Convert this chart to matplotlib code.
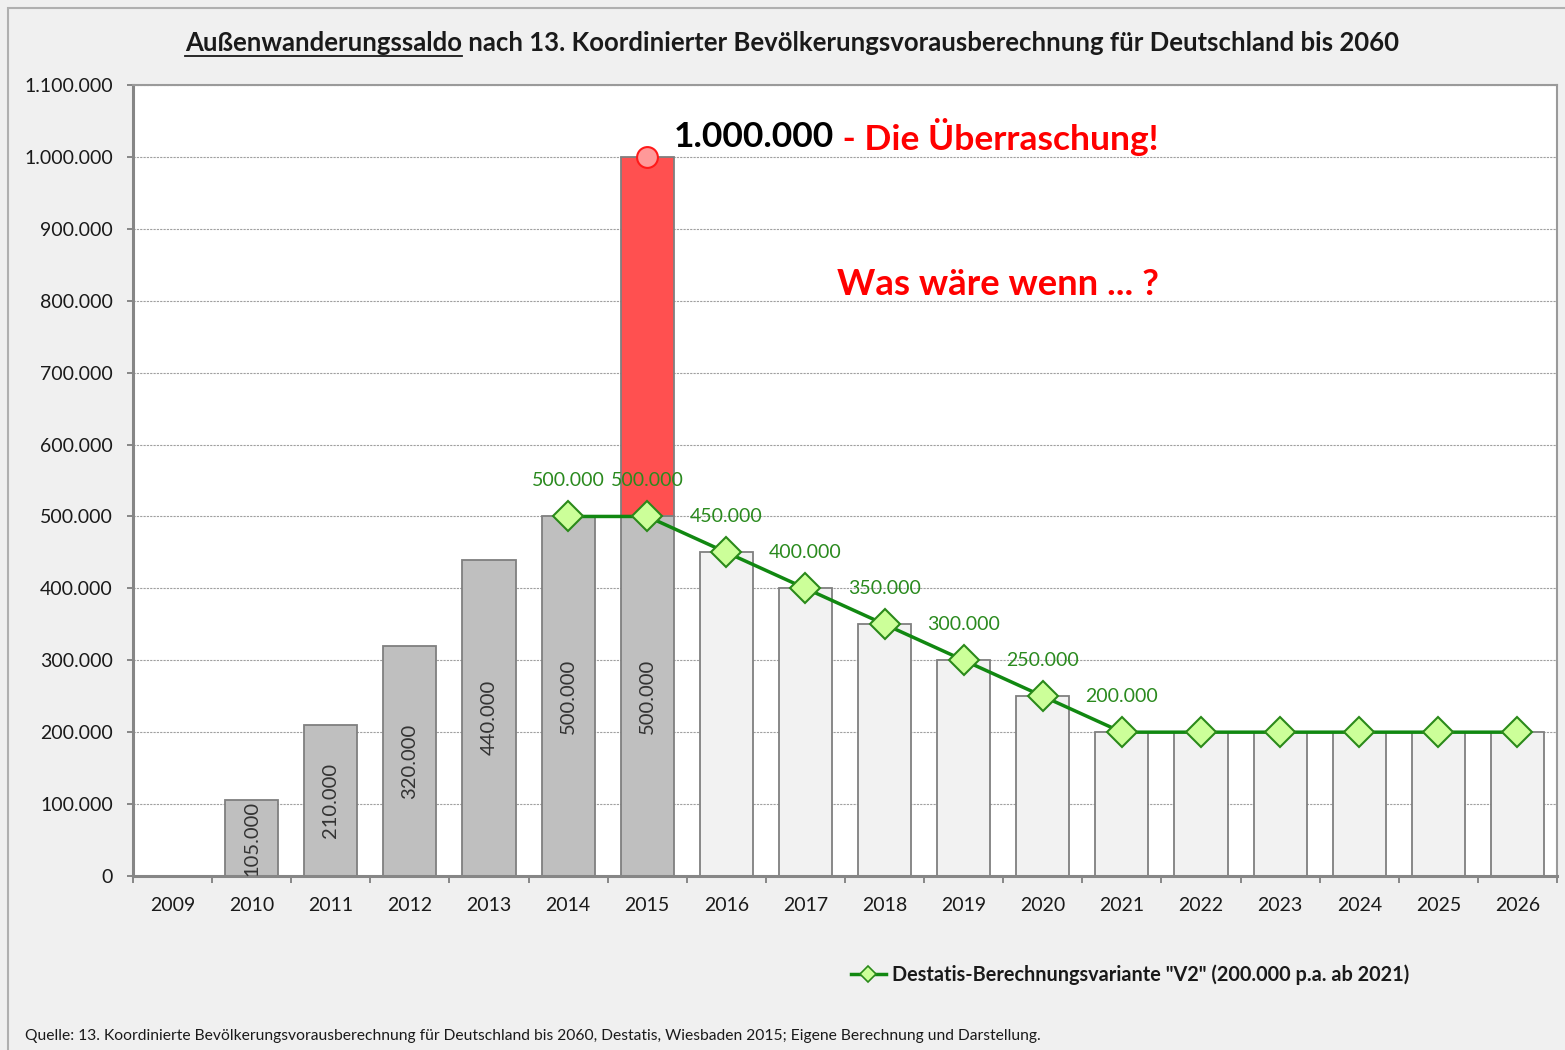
import matplotlib
matplotlib.use("Agg")
import matplotlib.pyplot as plt
import numpy as np
from matplotlib.lines import Line2D
from matplotlib.patches import Rectangle
from matplotlib.ticker import FuncFormatter

plt.rcParams['font.family'] = ['Lato', 'DejaVu Sans']

# Daten
jahre = [str(j) for j in range(2009, 2027)]
ist_jahre = ['2010', '2011', '2012', '2013', '2014', '2015']
ist_werte = [105000, 210000, 320000, 440000, 500000, 500000]
prog_jahre = ['2016', '2017', '2018', '2019', '2020', '2021',
              '2022', '2023', '2024', '2025', '2026']
prog_werte = [450000, 400000, 350000, 300000, 250000, 200000,
              200000, 200000, 200000, 200000, 200000]
extra_jahr = '2015'
extra_wert = 500000  # zusaetzlich zu 500.000 -> 1.000.000
v2_jahre = ['2014', '2015', '2016', '2017', '2018', '2019', '2020',
            '2021', '2022', '2023', '2024', '2025', '2026']
v2_werte = [500000, 500000, 450000, 400000, 350000, 300000, 250000,
            200000, 200000, 200000, 200000, 200000, 200000]
v2_label_bis = '2021'


def de(v):
    return f"{v:,.0f}".replace(',', '.')


pos = {j: i for i, j in enumerate(jahre)}

fig = plt.figure(figsize=(15.65, 10.5), dpi=100)
fig.patch.set_facecolor('#f0f0f0')
fig.patches.append(Rectangle((8 / 1565, -0.1), 1.2, 1 - 8 / 1050 + 0.1,
                             transform=fig.transFigure, fill=False,
                             edgecolor='#b0b0b0', lw=1.5))

ax = fig.add_axes([133 / 1565, 1 - 876 / 1050, (1557 - 133) / 1565, (876 - 85) / 1050])
ax.set_facecolor('white')

bw = 0.67
edge = '#7f7f7f'
x_ist = [pos[j] for j in ist_jahre]
ax.bar(x_ist, ist_werte, width=bw, color='#bfbfbf', edgecolor=edge, lw=1.3, zorder=2)
x_prog = [pos[j] for j in prog_jahre]
ax.bar(x_prog, prog_werte, width=bw, color='#f2f2f2', edgecolor=edge, lw=1.3, zorder=2)
ist_2015 = ist_werte[ist_jahre.index(extra_jahr)]
ax.bar(pos[extra_jahr], extra_wert, bottom=ist_2015, width=bw,
       color='#ff5050', edgecolor=edge, lw=1.3, zorder=2)

for x, v in zip(x_ist, ist_werte):
    ax.text(x, v / 2, de(v), rotation=90, ha='center', va='center',
            fontsize=14.5, color='#333333', zorder=4)

# rote Markierung
ax.plot([pos[extra_jahr]], [ist_2015 + extra_wert], 'o', ms=15,
        mfc='#ff9999', mec='#ff1a1a', mew=1.5, zorder=5)

# V2 Linie
x_v2 = [pos[j] for j in v2_jahre]
ax.plot(x_v2, v2_werte, color='#118811', lw=2.5, marker='D', ms=15,
        mfc='#ccff99', mec='#2a8a1a', mew=1.5, zorder=5)
for j, x, v in zip(v2_jahre, x_v2, v2_werte):
    if int(j) > int(v2_label_bis):
        break
    ax.annotate(de(v), (x, v), xytext=(0, 36), textcoords='offset pixels',
                ha='center', va='center', fontsize=14, color='#2a8a1e', zorder=6)

# Texte
t1 = ax.text(6.33, 1.028e6, de(ist_2015 + extra_wert), fontsize=25.5,
             fontweight='bold', color='black', ha='left', va='center')
ax.annotate(' - Die Überraschung!', xy=(1, 0.5), xycoords=t1, ha='left',
            va='center', fontsize=25.5, fontweight='bold', color='#ff0000')
ax.text(8.4, 0.822e6, 'Was wäre wenn ... ?', fontsize=26.3, fontweight='bold',
        color='#ff0000', ha='left', va='center')

# Achsen
ax.set_xlim(-0.5, len(jahre) - 0.5)
ax.set_ylim(0, 1100000)
ax.set_yticks(np.arange(0, 1100001, 100000))
ax.yaxis.set_major_formatter(FuncFormatter(lambda v, p: de(v)))
ax.set_xticks(range(len(jahre)))
ax.set_xticklabels(jahre)
ax.set_xticks(np.arange(-0.5, len(jahre), 1), minor=True)
ax.tick_params(axis='x', which='major', length=0, pad=15, labelsize=14, colors='#1a1a1a')
ax.tick_params(axis='x', which='minor', length=5, width=1.3, color=edge)
ax.tick_params(axis='y', length=4.5, width=1.3, color=edge, labelsize=14,
               labelcolor='#1a1a1a', pad=10)
ax.grid(axis='y', color='#a0a0a0', linestyle=(0, (2, 1)), lw=0.8, zorder=0)
ax.set_axisbelow(True)
for s in ['left', 'bottom']:
    ax.spines[s].set_color('#868686')
    ax.spines[s].set_linewidth(2.2)
for s in ['top', 'right']:
    ax.spines[s].set_color('#9a9a9a')
    ax.spines[s].set_linewidth(1.5)

# Titel mit unterstrichenem erstem Wort
fig.canvas.draw()
r = fig.canvas.get_renderer()
ty = 1 - 43 / 1050
ta = fig.text(0, ty, 'Außenwanderungssaldo', fontsize=18.5, fontweight='bold',
              color='#1a1a1a', va='center', ha='left')
tb = fig.text(0, ty, ' nach 13. Koordinierter Bevölkerungsvorausberechnung für Deutschland bis 2060',
              fontsize=18.5, fontweight='bold', color='#1a1a1a', va='center', ha='left')
wa = ta.get_window_extent(r).width
wb = tb.get_window_extent(r).width
x0 = 792 - (wa + wb) / 2
ta.set_x(x0 / 1565)
tb.set_x((x0 + wa) / 1565)
ul_y = 1 - 56 / 1050
fig.add_artist(Line2D([x0 / 1565, (x0 + wa) / 1565], [ul_y, ul_y],
                      transform=fig.transFigure, color='#1a1a1a', lw=1.3))

# Legende
h = Line2D([], [], color='#118811', lw=2.5, marker='D', ms=8,
           mfc='#ccff99', mec='#2a8a1a', mew=1.2)
fig.legend([h], ['Destatis-Berechnungsvariante "V2" (200.000 p.a. ab 2021)'],
           loc='center', bbox_to_anchor=(1130 / 1565, 1 - 975 / 1050),
           frameon=False, handlelength=1.8, handletextpad=0.3,
           labelcolor='#1a1a1a', prop={'weight': 'bold', 'size': 14.3})

fig.text(25 / 1565, 1 - 1036 / 1050,
         'Quelle: 13. Koordinierte Bevölkerungsvorausberechnung für Deutschland bis 2060, '
         'Destatis, Wiesbaden 2015; Eigene Berechnung und Darstellung.',
         fontsize=11.25, color='#1a1a1a', va='center', ha='left')

fig.savefig('out.png', dpi=100, facecolor=fig.get_facecolor())
